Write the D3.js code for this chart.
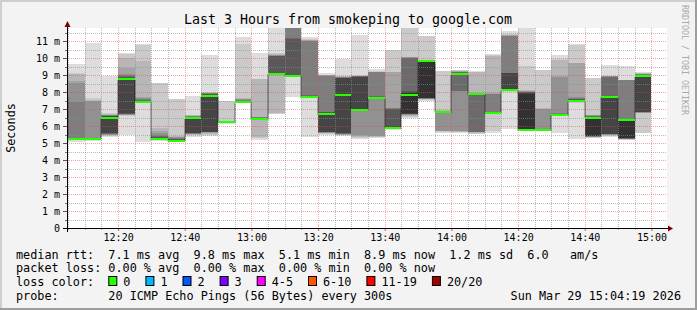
<!DOCTYPE html>
<html>
<head>
<meta charset="utf-8">
<script src="https://cdn.jsdelivr.net/npm/d3@7"></script>
<style>
body{margin:0;background:#f3f3f3}
svg{display:block}
text{font-family:"DejaVu Sans Mono",monospace}
</style>
</head>
<body>
<svg id="graph"></svg>
<script>
// bar start times (5 minute steps)
var times=["12:00","12:05","12:10","12:15","12:20","12:25","12:30","12:35","12:40","12:45","12:50","12:55",
"13:00","13:05","13:10","13:15","13:20","13:25","13:30","13:35","13:40","13:45","13:50","13:55",
"14:00","14:05","14:10","14:15","14:20","14:25","14:30","14:35","14:40","14:45","14:50","14:55"]

// median rtt in ms
var medians=[7.78,5.25,5.25,6.49,8.78,7.41,5.24,5.14,6.45,7.77,6.23,7.42,
6.44,9.05,8.94,7.7,6.72,7.8,6.94,7.67,5.9,7.8,9.8,6.82,
9.05,7.88,6.78,8.1,5.76,5.76,6.66,7.47,6.45,7.7,6.33,8.94]

// 20 sorted pings per step, ms
var pings=[
[5.3,5.4,5.6,6.0,6.5,7.0,7.3,7.5,7.7,7.76,7.8,8.0,8.2,8.5,8.8,9.0,9.5,10.0,10.8,11.5],
[5.08,5.15,5.18,5.2,5.2,5.22,5.22,5.24,5.24,5.25,5.26,5.28,5.3,5.32,7.41,8.53,8.65,9.04,9.1,9.63],
[5.12,5.16,5.18,5.2,5.2,5.22,5.22,5.23,5.24,5.25,5.26,5.27,5.28,5.3,5.32,7.45,7.5,7.55,7.66,10.86],
[5.35,5.4,5.45,5.48,5.5,5.52,5.54,5.56,5.57,6.45,6.53,6.56,6.58,6.6,6.62,6.64,6.66,6.7,6.75,8.94],
[5.47,6.6,6.62,6.64,6.66,6.68,6.7,6.72,6.75,8.76,8.8,8.85,8.9,8.95,9.0,9.05,9.43,10.0,10.25,10.27],
[5.06,7.36,7.37,7.38,7.38,7.39,7.39,7.4,7.4,7.4,7.42,7.45,7.48,7.52,7.56,7.62,7.72,9.82,10.78,10.8],
[5.1,5.15,5.17,5.18,5.2,5.2,5.21,5.22,5.23,5.24,5.25,5.3,5.36,5.42,5.5,5.6,5.72,5.86,8.55,8.55],
[5.05,5.08,5.1,5.1,5.11,5.12,5.12,5.13,5.13,5.14,5.15,5.18,5.22,5.26,5.3,5.34,5.38,5.43,7.57,7.57],
[5.37,5.45,5.5,5.53,5.54,5.55,5.56,5.57,5.58,6.43,6.47,6.5,6.52,6.54,6.56,6.58,6.6,6.62,6.65,7.76],
[5.43,5.5,5.55,5.6,5.62,5.64,5.65,5.66,5.67,7.75,7.8,7.85,7.88,7.9,7.92,7.94,7.95,7.96,7.98,10.2],
[6.1,6.15,6.17,6.18,6.19,6.2,6.21,6.22,6.22,6.23,6.24,6.25,6.26,6.27,6.28,6.29,6.3,6.32,7.47,7.47],
[7.38,7.39,7.39,7.4,7.4,7.4,7.41,7.41,7.41,7.42,7.43,7.45,7.48,7.5,7.53,7.56,7.6,7.63,10.82,11.25],
[5.2,5.3,5.37,6.4,6.41,6.42,6.42,6.43,6.43,6.43,6.44,6.46,6.48,6.5,6.52,6.54,6.55,8.76,8.76,10.31],
[6.68,6.72,6.74,9.0,9.01,9.02,9.02,9.03,9.03,9.04,9.06,9.08,10.1,10.12,10.14,10.16,10.2,10.24,10.27,11.9],
[7.72,8.9,8.91,8.91,8.92,8.92,8.93,8.93,8.93,8.94,8.96,8.98,11.1,11.15,12.0,12.3,12.6,13.0,13.5,14.0],
[5.37,7.64,7.65,7.66,7.67,7.68,7.68,7.69,7.69,7.7,7.71,7.73,7.76,7.8,11.0,11.02,11.05,11.08,11.12,11.22],
[5.5,5.55,5.58,5.6,5.61,5.62,5.63,5.64,5.65,6.68,6.72,6.76,6.8,6.84,8.95,8.97,8.99,9.0,9.02,9.1],
[5.41,5.45,5.48,5.5,5.52,5.53,5.54,5.56,5.57,7.78,7.82,8.8,8.82,8.84,8.86,8.88,8.9,8.92,8.94,9.96],
[5.25,5.3,5.38,5.42,5.45,6.88,6.9,6.91,6.92,6.93,6.95,8.88,8.9,8.92,8.94,8.95,8.96,8.97,9.0,11.35],
[5.31,5.35,5.38,5.4,5.41,7.6,7.62,7.63,7.64,7.65,7.68,7.7,7.72,7.74,9.15,9.17,9.18,9.2,9.22,9.35],
[5.78,5.8,5.82,5.84,5.85,5.86,5.87,5.88,5.89,5.9,5.92,6.0,7.0,7.02,7.03,7.04,9.18,9.2,10.45,10.47],
[6.49,6.55,6.6,6.64,6.67,6.7,6.71,6.72,6.73,6.74,7.95,8.0,8.04,10.0,10.02,10.03,10.04,10.05,12.0,12.2],
[7.5,7.53,7.56,7.58,7.6,7.61,7.62,7.62,7.63,7.63,9.85,9.86,9.87,9.88,9.88,9.89,9.9,9.9,11.28,11.3],
[5.6,5.65,5.68,5.7,5.72,6.78,6.79,6.8,6.8,6.81,6.83,6.84,6.85,6.86,6.87,6.88,6.9,6.92,9.22,9.24],
[5.6,5.64,5.67,5.69,5.7,8.06,8.07,9.0,9.01,9.02,9.1,9.12,9.14,9.16,9.18,9.2,9.22,9.25,9.28,9.3],
[5.51,5.55,5.6,5.63,5.65,5.66,5.67,7.85,7.86,7.87,7.9,7.91,7.92,7.93,7.94,7.95,7.96,9.18,9.2,9.22],
[5.6,5.72,6.74,6.75,6.75,6.76,6.76,6.77,6.77,6.78,6.79,6.8,6.82,6.83,7.9,7.91,7.92,10.1,10.15,10.22],
[5.8,8.02,8.03,8.04,8.05,8.06,8.07,8.08,8.08,8.09,8.12,9.12,9.13,9.14,11.3,11.32,11.34,11.35,11.4,11.59],
[5.7,5.72,5.73,5.74,5.75,5.75,5.76,5.76,5.77,5.78,7.9,7.95,7.98,8.0,8.02,8.05,8.08,8.12,9.53,11.8],
[5.68,5.7,5.71,5.72,5.72,5.73,5.74,5.74,5.75,5.76,5.77,5.78,5.78,5.79,5.8,7.0,7.02,7.04,9.28,9.3],
[5.57,6.6,6.61,6.62,6.63,6.63,6.64,6.64,6.65,6.65,6.68,6.7,6.72,6.73,6.75,8.9,8.94,9.9,9.92,10.18],
[5.22,7.38,7.39,7.4,7.41,7.42,7.43,7.44,7.45,7.46,7.48,7.52,7.56,7.6,7.66,7.72,9.68,9.7,10.78,10.8],
[5.27,5.3,5.33,5.35,5.37,5.38,5.39,5.4,5.41,5.42,6.5,6.53,6.55,6.57,6.6,6.62,6.63,6.65,8.8,8.84],
[5.37,5.42,5.45,5.48,5.5,5.51,5.52,5.53,5.53,7.68,7.72,7.74,7.76,8.9,8.91,8.92,8.93,8.94,8.94,9.59],
[5.18,5.2,5.22,5.23,5.24,5.25,5.26,5.27,5.28,5.3,6.36,6.37,6.38,6.4,8.68,8.69,8.7,8.71,8.72,9.53],
[5.58,5.6,6.74,6.76,6.78,6.8,6.82,6.84,6.85,8.9,8.96,8.98,9.0,9.02,9.04,9.06,9.08,9.1,9.12,9.15]
]

// legend texts
var medianLine="median rtt:  7.1 ms avg  9.8 ms max  5.1 ms min  8.9 ms now  1.2 ms sd  6.0   am/s"
var lossLine="packet loss: 0.00 % avg  0.00 % max  0.00 % min  0.00 % now"
var lossLabels=["0","1","2","3","4-5","6-10","11-19","20/20"]
var lossColors=["#26ff00","#00b8ff","#0059ff","#7e00ff","#ff00ff","#ff5500","#ff0000","#a10000"]
var probeLine="probe:       20 ICMP Echo Pings (56 Bytes) every 300s"
var dateText="Sun Mar 29 15:04:19 2026"
var title="Last 3 Hours from smokeping to google.com"

var width=697
var height=310
var plot={left:67, top:28, width:600, height:200}

var svg=d3.select("#graph")
    .attr("width",width)
    .attr("height",height)

var parse=d3.timeParse("%Y-%m-%d %H:%M")
var day="2026-03-29 "

// keep runs of spaces in svg text
var pre=function(s){return s.replace(/ /g,"\u00a0")}

var x=d3.scaleTime()
    .domain([new Date(2026,2,29,12,4,40),new Date(2026,2,29,15,4,40)])
    .range([plot.left,plot.left+plot.width])
var y=d3.scaleLinear()
    .domain([0,11.765])
    .range([plot.top+plot.height,plot.top])

//background + frame
svg.append("rect").attr("width",width).attr("height",height).attr("fill","#f3f3f3")
svg.append("rect").attr("x",0).attr("y",0).attr("width",width).attr("height",2).attr("fill","#cfcfcf")
svg.append("rect").attr("x",0).attr("y",0).attr("width",2).attr("height",height).attr("fill","#cfcfcf")
svg.append("rect").attr("x",0).attr("y",height-2).attr("width",width).attr("height",2).attr("fill","#9e9e9e")
svg.append("rect").attr("x",width-2).attr("y",0).attr("width",2).attr("height",height).attr("fill","#9e9e9e")

//canvas
svg.append("rect")
    .attr("x",plot.left).attr("y",plot.top)
    .attr("width",plot.width).attr("height",plot.height)
    .attr("fill","#ffffff")

svg.append("clipPath").attr("id","clip")
    .append("rect")
    .attr("x",plot.left).attr("y",plot.top)
    .attr("width",plot.width).attr("height",plot.height)

var steps=times.map(function(t,i){
    var t0=parse(day+t)
    return {t0:t0, t1:d3.timeMinute.offset(t0,5), med:medians[i], p:pings[i]}
})

var xPos=function(d){return Math.round(x(d.t0))}
var wid=function(d){return Math.round(x(d.t1))-Math.round(x(d.t0))}

// smoke: pair k spans ping k .. ping 21-k, darker towards the middle
var smoke=svg.append("g").attr("clip-path","url(#clip)")
d3.range(10).forEach(function(k){
    var c=Math.floor(190/10*(10-(k+1)))+50
    smoke.selectAll("rect.s"+k)
        .data(steps)
        .enter()
        .append("rect")
        .attr("class","s"+k)
        .attr("x",xPos)
        .attr("width",wid)
        .attr("y",function(d){return Math.round(y(d.p[19-k]))})
        .attr("height",function(d){return Math.round(y(d.p[k]))-Math.round(y(d.p[19-k]))})
        .attr("fill",d3.rgb(c,c,c))
})

//grid
var grid=svg.append("g")
var minorY=d3.range(0.5,11.76,0.5).filter(function(v){return v%1!=0})
var majorY=d3.range(1,12)
var minorX=x.ticks(d3.timeMinute.every(5)).filter(function(d){return d.getMinutes()%20!=0})
var majorX=x.ticks(d3.timeMinute.every(20))

grid.selectAll("line.hmin").data(minorY).enter().append("line")
    .attr("x1",plot.left).attr("x2",plot.left+plot.width)
    .attr("y1",function(d){return Math.round(y(d))+0.5}).attr("y2",function(d){return Math.round(y(d))+0.5})
    .attr("stroke","rgba(143,143,143,0.6)").attr("stroke-dasharray","1,1")
grid.selectAll("line.vmin").data(minorX).enter().append("line")
    .attr("y1",plot.top).attr("y2",plot.top+plot.height)
    .attr("x1",function(d){return Math.round(x(d))+0.5}).attr("x2",function(d){return Math.round(x(d))+0.5})
    .attr("stroke","rgba(143,143,143,0.6)").attr("stroke-dasharray","1,1")
grid.selectAll("line.hmaj").data(majorY).enter().append("line")
    .attr("x1",plot.left).attr("x2",plot.left+plot.width)
    .attr("y1",function(d){return Math.round(y(d))+0.5}).attr("y2",function(d){return Math.round(y(d))+0.5})
    .attr("stroke","rgba(222,80,80,0.5)").attr("stroke-dasharray","1,1")
grid.selectAll("line.vmaj").data(majorX).enter().append("line")
    .attr("y1",plot.top).attr("y2",plot.top+plot.height)
    .attr("x1",function(d){return Math.round(x(d))+0.5}).attr("x2",function(d){return Math.round(x(d))+0.5})
    .attr("stroke","rgba(222,80,80,0.5)").attr("stroke-dasharray","1,1")

//median: dotted step line then the loss coloured band
var medPts=steps.map(function(d){return [xPos(d),Math.round(y(d.med))+0.5]})
medPts.push([Math.round(x(steps[steps.length-1].t1)),Math.round(y(medians[medians.length-1]))+0.5])
svg.append("path")
    .attr("clip-path","url(#clip)")
    .attr("d",d3.line().curve(d3.curveStepAfter)(medPts))
    .attr("fill","none").attr("stroke","#000").attr("stroke-width",1)
    .attr("stroke-dasharray","1,1")
svg.append("g").attr("clip-path","url(#clip)")
    .selectAll("rect")
    .data(steps)
    .enter()
    .append("rect")
    .attr("x",xPos).attr("width",wid)
    .attr("y",function(d){return Math.round(y(d.med))-1})
    .attr("height",2)
    .attr("fill",lossColors[0])

//axes
var yAxis=d3.axisLeft(y)
    .tickValues(d3.range(0,12))
    .tickFormat(function(d){return pre(d==0?"0":d+" m")})
    .tickSize(4).tickPadding(3)
var gy=svg.append("g").attr("transform","translate("+plot.left+",0)").call(yAxis)
gy.select(".domain").remove()
gy.selectAll("text").attr("font-size","10px").attr("font-family","DejaVu Sans Mono").attr("fill","#000")
gy.selectAll("line").attr("stroke","#555")
svg.append("g").selectAll("line").data(minorY).enter().append("line")
    .attr("x1",plot.left-2).attr("x2",plot.left)
    .attr("y1",function(d){return Math.round(y(d))+0.5}).attr("y2",function(d){return Math.round(y(d))+0.5})
    .attr("stroke","#777")

var xAxis=d3.axisBottom(x)
    .ticks(d3.timeMinute.every(20))
    .tickFormat(d3.timeFormat("%H:%M"))
    .tickSize(3).tickPadding(3)
var gx=svg.append("g").attr("transform","translate(0,"+(plot.top+plot.height)+")").call(xAxis)
gx.select(".domain").remove()
gx.selectAll("text").attr("font-size","10px").attr("font-family","DejaVu Sans Mono").attr("fill","#000")
gx.selectAll("line").attr("stroke","#de5050")
svg.append("g").selectAll("line").data(minorX).enter().append("line")
    .attr("y1",plot.top+plot.height).attr("y2",plot.top+plot.height+2)
    .attr("x1",function(d){return Math.round(x(d))+0.5}).attr("x2",function(d){return Math.round(x(d))+0.5})
    .attr("stroke","#aaa")

// axis lines with arrows
svg.append("line").attr("x1",plot.left-4).attr("x2",plot.left+plot.width+2)
    .attr("y1",228.5).attr("y2",228.5).attr("stroke","#000")
svg.append("line").attr("x1",plot.left+0.5).attr("x2",plot.left+0.5)
    .attr("y1",232).attr("y2",plot.top-2).attr("stroke","#000")
svg.append("path").attr("d","M668,225.5L673,228.5L668,231.5Z").attr("fill","#7f0000")
svg.append("path").attr("d","M64.5,27L67.5,21L70.5,27Z").attr("fill","#7f0000")

//texts
svg.append("text").attr("x",348).attr("y",24).attr("text-anchor","middle")
    .attr("font-size","13.3px").text(title)
svg.append("text").attr("transform","translate(15,128) rotate(-90)")
    .attr("text-anchor","middle").attr("font-size","11.8px").text("Seconds")
svg.append("text").attr("transform","translate(682,5) rotate(90)")
    .attr("font-size","8.3px").attr("fill","#aaa").text(pre("RRDTOOL / TOBI OETIKER"))

var legend=svg.append("g").attr("font-size","11.8px")
legend.append("text").attr("x",16).attr("y",258.5).text(pre(medianLine))
legend.append("text").attr("x",16).attr("y",272.3).text(pre(lossLine))
legend.append("text").attr("x",16).attr("y",286).text(pre("loss color:"))
legend.append("text").attr("x",16).attr("y",299.8).text(pre(probeLine))
legend.append("text").attr("x",681).attr("y",299.8).attr("text-anchor","end").text(pre(dateText))

var bx=108.3
lossLabels.forEach(function(l,i){
    legend.append("rect").attr("x",bx+0.5).attr("y",276.5).attr("width",8).attr("height",9)
        .attr("fill",lossColors[i]).attr("stroke","#000")
    legend.append("text").attr("x",bx+15).attr("y",286).text(l)
    bx=bx+15+l.length*7.1+15
})
</script>
</body>
</html>
